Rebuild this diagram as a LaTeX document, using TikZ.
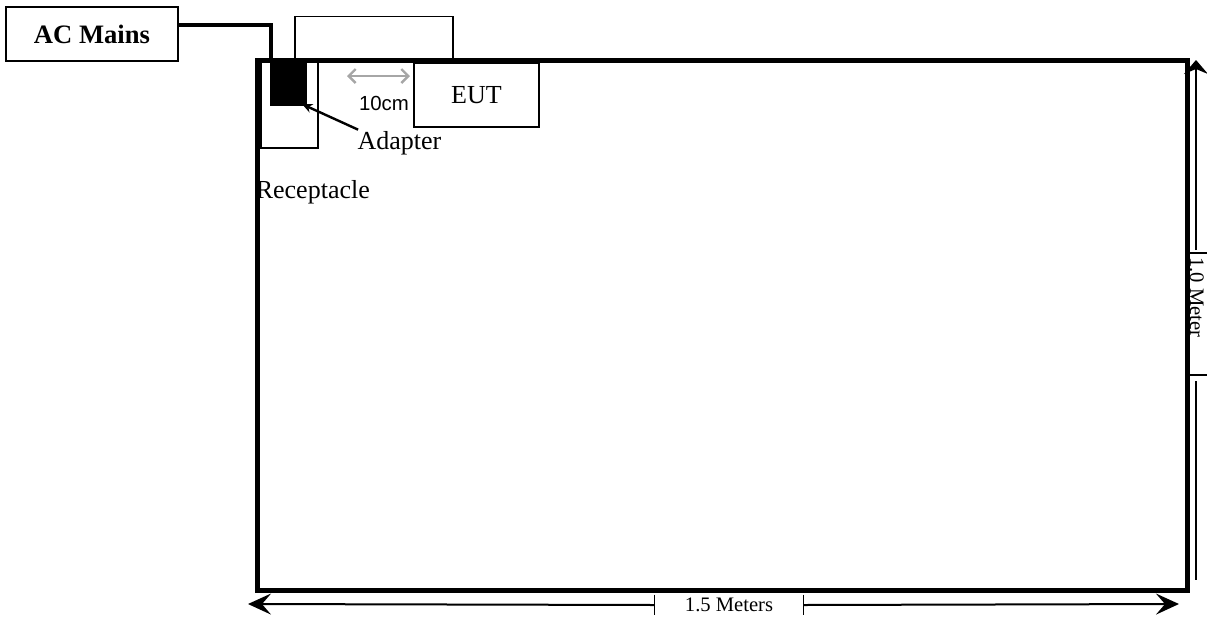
\documentclass[tikz,border=0pt]{standalone}
\usepackage{fontspec}
\setmainfont{Liberation Serif}
\newfontfamily\arialfont{Liberation Sans}
\usetikzlibrary{arrows.meta,positioning,calc}

\begin{document}
\begin{tikzpicture}[
    x=0.5pt, y=-0.5pt,
    every node/.style={font=\fontsize{13}{15}\selectfont, inner sep=0pt},
    box/.style={rectangle, draw, line width=0.85pt},
    mains/.style={rectangle, draw, line width=1pt, minimum width=86pt, minimum height=27pt,
                  font=\bfseries\fontsize{13.3}{15}\selectfont},
    bench/.style={rectangle, draw, line width=1.6pt, minimum width=464.5pt, minimum height=264.5pt},
    cable/.style={line width=1.6pt},
    dimtxt/.style={font=\fontsize{10.3}{12}\selectfont},
    tick/.style={line width=0.7pt},
    dimarrow/.style={-{Stealth[length=11.5pt, width=10.5pt, inset=4.5pt]}, line width=1pt},
    toparrow/.style={-{Stealth[length=7pt, width=12pt, inset=2.5pt]}, line width=0.8pt},
    gaparrow/.style={{Straight Barb[length=3.5pt, width=7pt]}-{Straight Barb[length=3.5pt, width=7pt]},
                     draw=gray!70, line width=1.2pt},
    pointer/.style={-{Stealth[length=5pt, width=4.5pt]}, line width=1.2pt}
]
\useasboundingbox (0,0) rectangle (1207,618);
\clip (0,0) rectangle (1207,618);

% Table and mains
\node[mains, anchor=north west] (acmains) at (5,6) {AC Mains};
\node[bench] (table) at (722.5,325.5) {};

% Items on the table edge
\node[box, anchor=south west, minimum width=79pt, minimum height=21pt] (back)
    at ($(table.north west)+(38,0)$) {};
\node[box, anchor=north west, minimum width=28.5pt, minimum height=44pt] (recep)
    at ($(table.north west)+(4,0)$) {};
\node[rectangle, fill=black, anchor=north west, minimum width=18.5pt, minimum height=23pt] (adapter)
    at ($(recep.north west)+(9,0)$) {};
\node[box, anchor=north west, minimum width=62.5pt, minimum height=32pt] (eut)
    at ($(back.south east)+(-41,3)$) {EUT};

% Labels
\node[anchor=base west] (adlbl) at ($(recep.south east)+(38,0)$) {Adapter};
\node[anchor=base west] (reclbl) at ($(recep.south west)+(-5,49)$) {Receptacle};
\node[font=\arialfont\fontsize{10.2}{12}\selectfont] (gaplbl) at (384,103) {10cm};

% Redraw table edge over the boxes
\draw[line width=1.6pt] (table.north west) rectangle (table.south east);

% Cable
\draw[cable] ($(acmains.east)+(0,-9)$) -| ($(adapter.north west)+(1.5,0)$);

% Pointer and gap
\coordinate (gapL) at (347,76);
\coordinate (gapR) at (410,76);
\draw[gaparrow] (gapL) -- (gapR);
\draw[pointer] ($(adlbl.north west)+(1,-1)$) -- ($(adapter.south east)+(-5,-2)$);

% Width dimension
\node[dimtxt, minimum width=74pt, minimum height=10pt] (hlbl) at (729,605) {1.5 Meters};
\coordinate (hdimL) at (248,604);
\coordinate (hdimR) at (1179,604);
\draw[tick] (hlbl.north west) -- (hlbl.south west);
\draw[tick] (hlbl.north east) -- (hlbl.south east);
\draw[dimarrow] (hlbl.west) -- (hdimL);
\draw[dimarrow] (hlbl.east) -- (hdimR);

% Depth dimension
\node[dimtxt, rotate=-90, anchor=base west] (vlbl) at (1190,257) {1.0 Meter};
\coordinate (vtickA) at (1196,250);
\coordinate (vtickB) at (1196,381);
\coordinate (dimTop) at (1196,60);
\coordinate (dimBot) at (1196,580);
\draw[tick] (1185,253) -- (1210,253);
\draw[tick] (1185,375) -- (1210,375);
\draw[toparrow] (vtickA) -- (dimTop);
\draw[line width=0.8pt] (vtickB) -- (dimBot);

\end{tikzpicture}
\end{document}
